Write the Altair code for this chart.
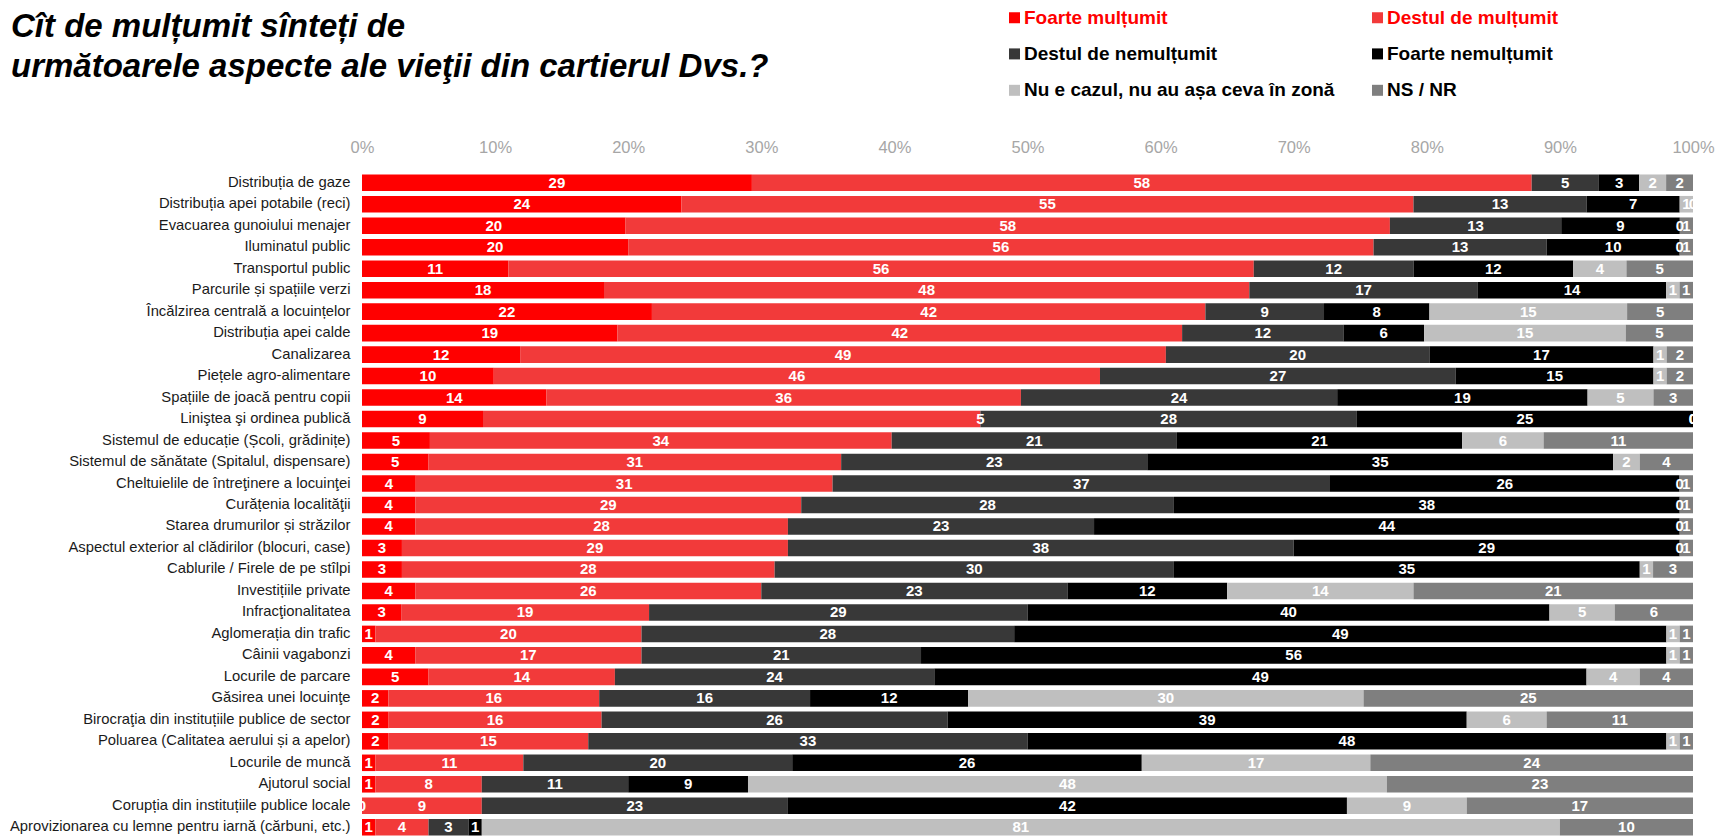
import altair as alt
import pandas as pd

categories = [
    "Distribuția de gaze",
    "Distribuția apei potabile (reci)",
    "Evacuarea gunoiului menajer",
    "Iluminatul public",
    "Transportul public",
    "Parcurile și spațiile verzi",
    "Încălzirea centrală a locuințelor",
    "Distribuția apei calde",
    "Canalizarea",
    "Piețele agro-alimentare",
    "Spațiile de joacă pentru copii",
    "Liniştea şi ordinea publică",
    "Sistemul de educație (Școli, grădinițe)",
    "Sistemul de sănătate (Spitalul, dispensare)",
    "Cheltuielile de întreţinere a locuinţei",
    "Curățenia localităţii",
    "Starea drumurilor și străzilor",
    "Aspectul exterior al clădirilor (blocuri, case)",
    "Cablurile / Firele de pe stîlpi",
    "Investițiile private",
    "Infracţionalitatea",
    "Aglomerația din trafic",
    "Câinii vagabonzi",
    "Locurile de parcare",
    "Găsirea unei locuinţe",
    "Birocraţia din instituțiile publice de sector",
    "Poluarea (Calitatea aerului și a apelor)",
    "Locurile de muncă",
    "Ajutorul social",
    "Corupția din instituțiile publice locale",
    "Aprovizionarea cu lemne pentru iarnă (cărbuni, etc.)",
]

foarte_multumit = [29, 24, 20, 20, 11, 18, 22, 19, 12, 10, 14, 9, 5, 5, 4, 4, 4, 3, 3, 4,
                   3, 1, 4, 5, 2, 2, 2, 1, 1, 0, 1]
destul_multumit = [58, 55, 58, 56, 56, 48, 42, 42, 49, 46, 36, 37, 34, 31, 31, 29, 28, 29, 28, 26,
                   19, 20, 17, 14, 16, 16, 15, 11, 8, 9, 4]
destul_nemultumit = [5, 13, 13, 13, 12, 17, 9, 12, 20, 27, 24, 28, 21, 23, 37, 28, 23, 38, 30, 23,
                     29, 28, 21, 24, 16, 26, 33, 20, 11, 23, 3]
foarte_nemultumit = [3, 7, 9, 10, 12, 14, 8, 6, 17, 15, 19, 25, 21, 35, 26, 38, 44, 29, 35, 12,
                     40, 49, 56, 49, 12, 39, 48, 26, 9, 42, 1]
nu_e_cazul = [2, 1, 0, 0, 4, 1, 15, 15, 1, 1, 5, 0, 6, 2, 0, 0, 0, 0, 1, 14,
              5, 1, 1, 4, 30, 6, 1, 17, 48, 9, 81]
ns_nr = [2, 0, 1, 1, 5, 1, 5, 5, 2, 2, 3, 0, 11, 4, 1, 1, 1, 1, 3, 21,
         6, 1, 1, 4, 25, 11, 1, 24, 23, 17, 10]

series_names = [
    "Foarte mulțumit",
    "Destul de mulțumit",
    "Destul de nemulțumit",
    "Foarte nemulțumit",
    "Nu e cazul, nu au așa ceva în zonă",
    "NS / NR",
]
series_values = [foarte_multumit, destul_multumit, destul_nemultumit,
                 foarte_nemultumit, nu_e_cazul, ns_nr]
series_colors = ["#FF0000", "#F23A3A", "#383838", "#000000", "#BFBFBF", "#7F7F7F"]

# label printed in the original differs from the segment value in one cell
label_overrides = {("Liniştea şi ordinea publică", "Destul de mulțumit"): "5"}

rows = []
for i, cat in enumerate(categories):
    for j, (name, vals) in enumerate(zip(series_names, series_values)):
        key = (cat, name)
        rows.append({
            "category": cat,
            "series": name,
            "order": j,
            "value": vals[i],
            "label": label_overrides.get(key, str(vals[i])),
            "at_end": key in label_overrides,
        })
df = pd.DataFrame(rows)

FONT = "Liberation Sans, Arial, sans-serif"

base = alt.Chart(df).transform_stack(
    stack="value",
    groupby=["category"],
    as_=["x0", "x1"],
    offset="normalize",
    sort=[alt.SortField("order", order="ascending")],
).transform_calculate(
    lx="datum.at_end ? datum.x1 : (datum.x0 + datum.x1) / 2"
)

y_enc = alt.Y(
    "category:N",
    sort=categories,
    title=None,
    scale=alt.Scale(paddingInner=0.23, paddingOuter=0.115),
    axis=alt.Axis(
        ticks=False, tickSize=0, domain=False, labelPadding=12,
        labelFont=FONT, labelFontSize=14.8, labelColor="#1A1A1A", labelLimit=500,
    ),
)

legend_label_fill = (
    "datum.value === 'Foarte mulțumit' || datum.value === 'Destul de mulțumit'"
    " ? '#FF0000' : '#000000'"
)

bars = base.mark_bar().encode(
    x=alt.X(
        "x0:Q",
        title=None,
        scale=alt.Scale(domain=[0, 1], nice=False),
        axis=alt.Axis(
            orient="top", format=".0%", values=[i / 10 for i in range(11)],
            ticks=False, tickSize=0, domain=False, grid=False, labelPadding=17,
            labelFlush=False, labelBound=False, labelOverlap=False,
            labelFont=FONT, labelFontSize=16.5, labelColor="#A6A6A6",
        ),
    ),
    x2="x1:Q",
    y=y_enc,
    color=alt.Color(
        "series:N",
        scale=alt.Scale(domain=series_names, range=series_colors),
        legend=alt.Legend(
            title=None, orient="none", legendX=643, legendY=-164,
            direction="horizontal", columns=2, columnPadding=33,
            rowPadding=16.4, padding=0,
            symbolType="square", symbolSize=121, symbolStrokeWidth=0,
            symbolOpacity=1, labelFont=FONT, labelFontSize=19,
            labelFontWeight="bold", labelOffset=0, labelLimit=600,
            labelColor=alt.ExprRef(expr=legend_label_fill),
        ),
        sort=series_names,
    ),
    order=alt.Order("order:Q"),
)

labels = base.mark_text(
    color="white", fontWeight="bold", fontSize=15, font=FONT,
    align="center", baseline="middle",
).encode(
    x=alt.X("lx:Q"),
    y=alt.Y("category:N", sort=categories),
    text="label:N",
)

chart = alt.layer(bars, labels).properties(
    width=1331,
    height=666,
    title=alt.TitleParams(
        text=["Cît de mulțumit sînteți de",
              "următoarele aspecte ale vieţii din cartierul Dvs.?"],
        anchor="start", frame="group", dx=-351,
        font=FONT, fontSize=33, fontStyle="italic", fontWeight="bold",
        color="#000000", lineHeight=40, offset=-76,
    ),
    autosize=alt.AutoSizeParams(type="none"),
    padding={"left": 354, "top": 164, "right": 23, "bottom": 0},
).configure_view(stroke=None)

chart.save("out.html", embed_options={"renderer": "svg", "actions": False})
